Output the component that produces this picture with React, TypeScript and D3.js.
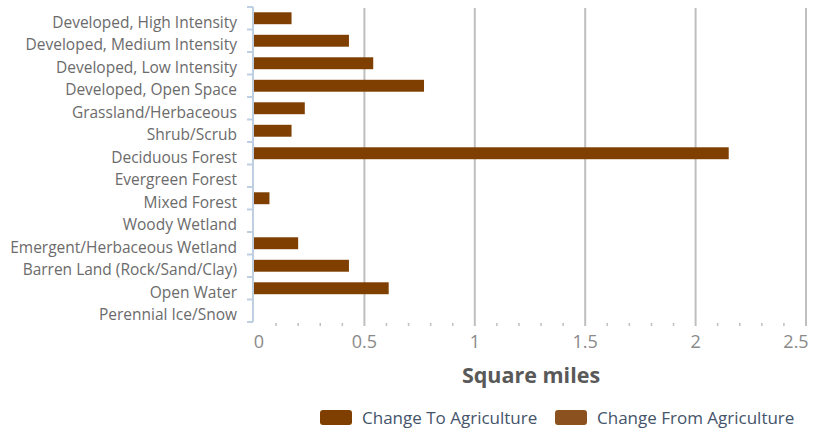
import React, { useEffect, useRef } from 'react';
import * as d3 from 'd3';

const categories = [
  'Developed, High Intensity',
  'Developed, Medium Intensity',
  'Developed, Low Intensity',
  'Developed, Open Space',
  'Grassland/Herbaceous',
  'Shrub/Scrub',
  'Deciduous Forest',
  'Evergreen Forest',
  'Mixed Forest',
  'Woody Wetland',
  'Emergent/Herbaceous Wetland',
  'Barren Land (Rock/Sand/Clay)',
  'Open Water',
  'Perennial Ice/Snow',
];

const toAgriculture = [0.17, 0.43, 0.54, 0.77, 0.23, 0.17, 2.15, 0, 0.07, 0, 0.2, 0.43, 0.61, 0];

const xTicks = [0, 0.5, 1, 1.5, 2, 2.5];
const minorTicks = d3.range(0, 26).map((i) => i / 10);

const seriesNames = ['Change To Agriculture', 'Change From Agriculture'];
const seriesColors = ['#7f3f00', '#8b5220'];

const FONT = '"Open Sans", sans-serif';

const App = () => {
  const ref = useRef<SVGSVGElement>(null);

  useEffect(() => {
    const svg = d3.select(ref.current);
    svg.selectAll('*').remove();

    const left = 254;
    const right = 806;
    const top = 7;
    const bottom = 322;

    const x = d3.scaleLinear().domain([0, 2.5]).range([left, right]);
    const y = d3.scaleBand<string>().domain(categories).range([top, bottom]).paddingInner(0.47).paddingOuter(0.235);
    const yStep = d3.scaleBand<string>().domain(categories).range([top, bottom]);

    // gridlines
    svg
      .append('g')
      .selectAll('line')
      .data(xTicks.slice(1))
      .join('line')
      .attr('x1', (d) => x(d))
      .attr('x2', (d) => x(d))
      .attr('y1', top + 1)
      .attr('y2', bottom + 4)
      .attr('stroke', '#bfbfbf')
      .attr('stroke-width', 2);

    // minor ticks
    svg
      .append('g')
      .selectAll('line')
      .data(minorTicks.filter((d) => Math.round(d * 10) % 5 !== 0))
      .join('line')
      .attr('x1', (d) => x(d))
      .attr('x2', (d) => x(d))
      .attr('y1', bottom + 1)
      .attr('y2', bottom + 4)
      .attr('stroke', '#bfbfbf')
      .attr('stroke-width', 1.5);

    // bars
    svg
      .append('g')
      .selectAll('rect')
      .data(categories)
      .join('rect')
      .attr('x', x(0))
      .attr('y', (d) => y(d)!)
      .attr('width', (_, i) => x(toAgriculture[i]) - x(0))
      .attr('height', y.bandwidth())
      .attr('fill', seriesColors[0]);

    // left axis
    const axis = svg.append('g');
    axis
      .append('line')
      .attr('x1', left - 1)
      .attr('x2', left - 1)
      .attr('y1', top)
      .attr('y2', bottom)
      .attr('stroke', '#bfcfe2')
      .attr('stroke-width', 2);
    const bounds = categories.map((c) => yStep(c)!).concat([bottom]);
    axis
      .selectAll('line.tick')
      .data(bounds)
      .join('line')
      .attr('class', 'tick')
      .attr('x1', left - 7)
      .attr('x2', left - 1)
      .attr('y1', (d) => d)
      .attr('y2', (d) => d)
      .attr('stroke', '#bfcfe2')
      .attr('stroke-width', 2);

    // category labels
    svg
      .append('g')
      .selectAll('text')
      .data(categories)
      .join('text')
      .attr('x', 237)
      .attr('y', (d) => yStep(d)! + yStep.bandwidth() / 2 + 9.5)
      .attr('text-anchor', 'end')
      .attr('font-family', FONT)
      .attr('font-size', 15.5)
      .attr('fill', '#6b6b6b')
      .text((d) => d);

    // x tick labels
    svg
      .append('g')
      .selectAll('text')
      .data(xTicks)
      .join('text')
      .attr('x', (d) => x(d) + (d === 0 ? 5 : d === 2.5 ? -10 : 0))
      .attr('y', 348)
      .attr('text-anchor', 'middle')
      .attr('font-family', FONT)
      .attr('font-size', 18)
      .attr('fill', '#8a8a8a')
      .text((d) => String(d));

    svg
      .append('text')
      .attr('x', 531)
      .attr('y', 383)
      .attr('text-anchor', 'middle')
      .attr('font-family', FONT)
      .attr('font-size', 21.5)
      .attr('font-weight', 'bold')
      .attr('fill', '#595959')
      .text('Square miles');

    // legend
    const legendX = [320, 555];
    const lg = svg
      .append('g')
      .selectAll('g')
      .data(seriesNames)
      .join('g')
      .attr('transform', (_, i) => `translate(${legendX[i]},410)`);
    lg.append('rect')
      .attr('width', 32)
      .attr('height', 15)
      .attr('rx', 3)
      .attr('fill', (_, i) => seriesColors[i]);
    lg.append('text')
      .attr('x', 42)
      .attr('y', 13.5)
      .attr('font-family', FONT)
      .attr('font-size', 17)
      .attr('fill', '#44546a')
      .text((d) => d);
  }, []);

  return (
    <svg
      ref={ref}
      width={822}
      height={434}
      style={{ position: 'absolute', left: 0, top: 0, background: '#fff' }}
    />
  );
};

export default App;
